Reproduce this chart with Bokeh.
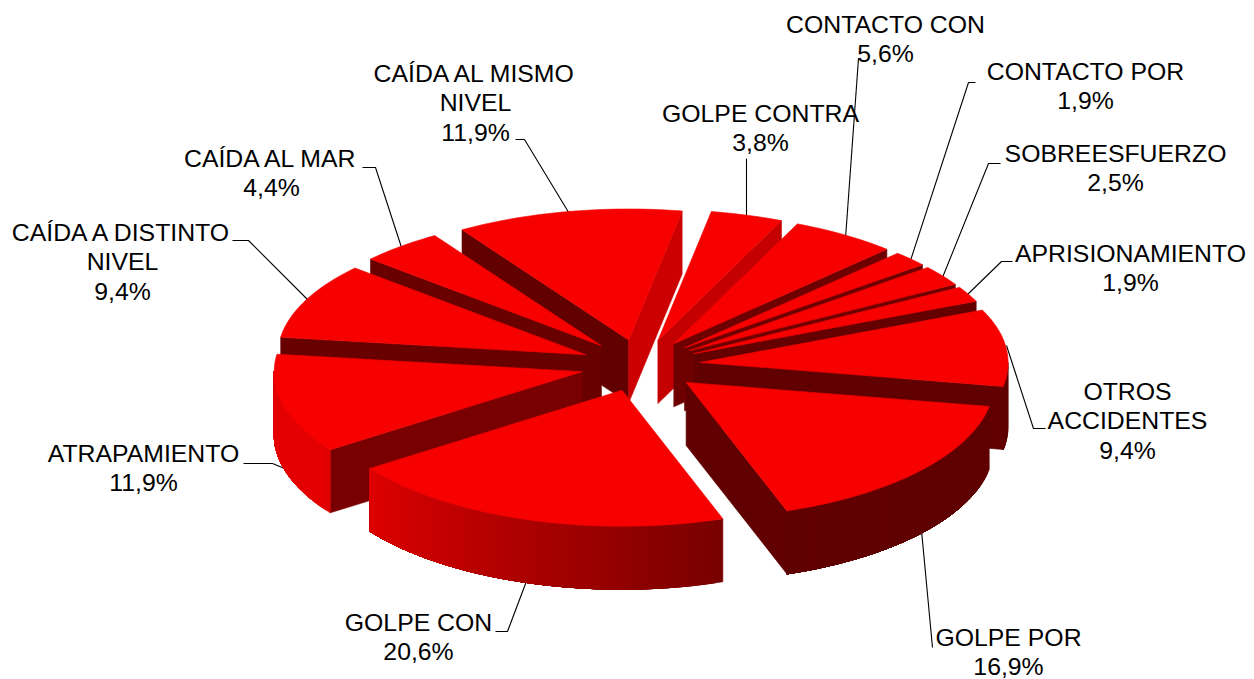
import math
from bokeh.plotting import figure
from bokeh.models import Range1d
from bokeh.core.properties import value
from bokeh.embed import file_html
from bokeh.resources import INLINE

categories = ["GOLPE CONTRA", "CONTACTO CON", "CONTACTO POR", "SOBREESFUERZO", "APRISIONAMIENTO",
              "OTROS ACCIDENTES", "GOLPE POR", "GOLPE CON", "ATRAPAMIENTO",
              "CAÍDA A DISTINTO NIVEL", "CAÍDA AL MAR", "CAÍDA AL MISMO NIVEL"]
percentages = [3.8, 5.6, 1.9, 2.5, 1.9, 9.4, 16.9, 20.6, 11.9, 9.4, 4.4, 11.9]
label_lines = [["GOLPE CONTRA"], ["CONTACTO CON"], ["CONTACTO POR"], ["SOBREESFUERZO"], ["APRISIONAMIENTO"],
               ["OTROS", "ACCIDENTES"], ["GOLPE POR"], ["GOLPE CON"], ["ATRAPAMIENTO"],
               ["CAÍDA A DISTINTO", "NIVEL"], ["CAÍDA AL MAR"], ["CAÍDA AL MISMO", "NIVEL"]]

# layout (page pixels)
CX, CY, RX, RY_BACK, RY_FRONT, H = 640, 365, 308, 131, 136, 63
EX, EY = 60, 26
ROT = 10.0
label_x = [760, 885, 1085, 1115, 1130, 1127, 1008, 418, 143, 122, 271, 475]
label_y = [113, 24, 71, 153, 253, 391, 637, 622, 453, 232, 158, 73]
LINE_H = 29.3
leaders = [
    [(746, 158), (746, 218)],
    [(858, 58), (845, 238)],
    [(975, 82), (968, 82), (910, 260)],
    [(1000, 163), (988, 163), (942, 277)],
    [(1012, 261), (1001, 261), (966, 295)],
    [(1045, 428), (1033, 428), (1006, 345)],
    [(932, 647), (921, 530)],
    [(495, 631), (507, 631), (527, 578)],
    [(243, 463), (272, 463), (284, 468)],
    [(232, 240), (248, 240), (308, 300)],
    [(362, 167), (375, 167), (402, 250)],
    [(515, 139), (524, 139), (570, 215)],
]
TOP = "#f70000"
end_face = ["#c40000", "#6e0000", "#6e0000", "#6e0000", "#640000", "#600000",
            "#600000", "#600000", "#780000", "#680000", "#680000", "#cc0000"]
start_face = ["#c40000", "#6e0000", "#6e0000", "#6e0000", "#640000", "#600000",
              "#600000", "#600000", "#780000", "#680000", "#680000", "#620000"]


def wall_level(theta):
    if theta <= 161:
        return 0x60
    if theta >= 236:
        return 0xe4
    return 0x78 + (0xe0 - 0x78) * (theta - 161) / 75


total = sum(percentages)
polys = []
acc = 0.0
for i, v in enumerate(percentages):
    a1 = ROT + acc / total * 360
    acc += v
    a2 = ROT + acc / total * 360
    mid = math.radians((a1 + a2) / 2)
    ax, ay = CX + EX * math.sin(mid), CY - EY * math.cos(mid)

    def pt(deg):
        r = math.radians(deg)
        c = math.cos(r)
        return ax + RX * math.sin(r), ay - (RY_BACK if c > 0 else RY_FRONT) * c

    order = -math.cos(mid)
    layer = []
    # cut faces
    for ang, col, sign in ((a1, start_face[i], -1), (a2, end_face[i], 1)):
        if sign * math.sin(math.radians(ang)) > 0:
            px, py = pt(ang)
            layer.append(([ax, px, px, ax], [ay, py, py + H, ay + H], col))
    # outer wall: each gradient step is overlaid by the next one, so no seams show
    lo, hi = max(a1, 90), min(a2, 270)
    if hi > lo:
        n = max(1, int((hi - lo) / 1.5))
        for k in range(n):
            t0 = lo + (hi - lo) * k / n
            m = max(2, int((hi - t0) / 1.5))
            arc = [pt(t0 + (hi - t0) * j / m) for j in range(m + 1)]
            level = int(wall_level(t0 + (hi - lo) / n / 2))
            wx = [q[0] for q in arc] + [q[0] for q in reversed(arc)]
            wy = [q[1] for q in arc] + [q[1] + H for q in reversed(arc)]
            layer.append((wx, wy, "#%02x0000" % level))
    # top face
    steps = max(2, int((a2 - a1) / 1.5))
    arc = [pt(a1 + (a2 - a1) * k / steps) for k in range(steps + 1)]
    layer.append(([ax] + [q[0] for q in arc], [ay] + [q[1] for q in arc], TOP))
    polys.append((order, layer))

polys.sort(key=lambda e: e[0])
xs, ys, cols = [], [], []
for _, layer in polys:
    for x_, y_, c_ in layer:
        xs.append(x_)
        ys.append(y_)
        cols.append(c_)

p = figure(width=1254, height=679, output_backend="svg", toolbar_location=None,
           x_range=Range1d(0, 1254), y_range=Range1d(679, 0), min_border=0)
p.axis.visible = False
p.grid.visible = False
p.outline_line_color = None

p.multi_line([[q[0] for q in l] for l in leaders], [[q[1] for q in l] for l in leaders],
             line_color="black", line_width=1.1)
p.patches(xs, ys, fill_color=cols, line_color=cols, line_width=0.6)

tx, ty, tt = [], [], []
for i, v in enumerate(percentages):
    lines = label_lines[i] + [f"{v:.1f}".replace(".", ",") + "%"]
    for j, s in enumerate(lines):
        tx.append(label_x[i])
        ty.append(label_y[i] + j * LINE_H)
        tt.append(s)
p.text(tx, ty, text=tt, text_align="center", text_baseline="middle",
       text_font=value("Liberation Sans"), text_font_size="24.8px", text_color="black")

open("out.html", "w").write(file_html(p, INLINE))
